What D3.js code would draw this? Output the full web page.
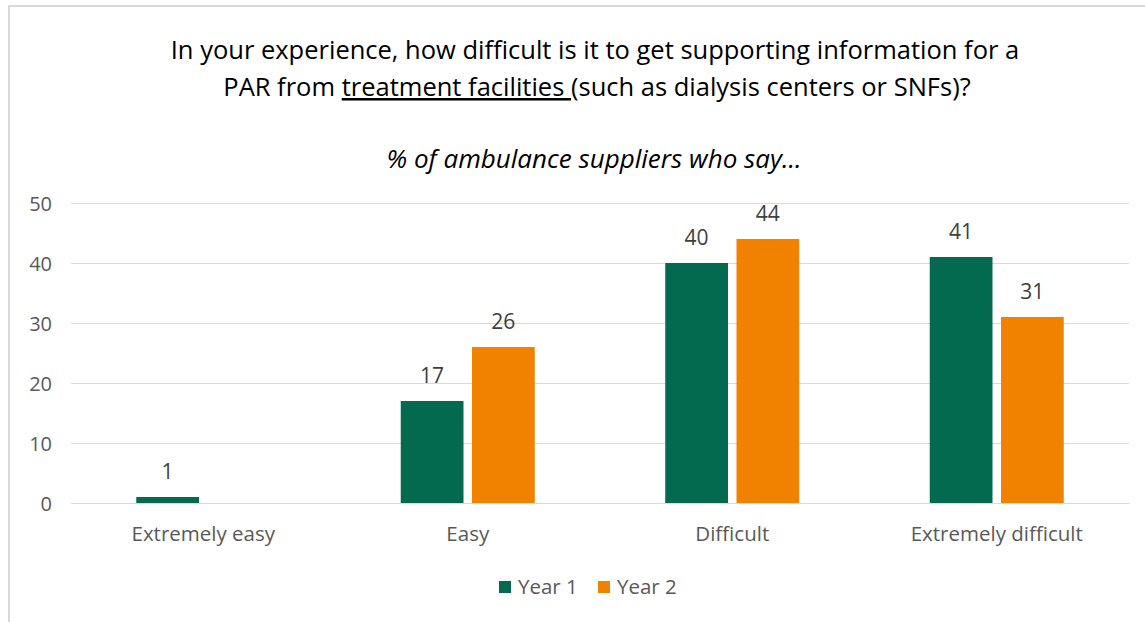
<!DOCTYPE html>
<html><head><meta charset="utf-8">
<script src="https://cdn.jsdelivr.net/npm/d3@7"></script>
<style>
html,body{margin:0;padding:0;background:#fff;}
svg text{font-family:"Open Sans","Noto Sans",sans-serif;}
</style></head>
<body>
<svg id="chart" width="1145" height="622"></svg>
<script>
const categories = ["Extremely easy","Easy","Difficult","Extremely difficult"];
const seriesNames = ["Year 1","Year 2"];
const year1 = [1,17,40,41];
const year2 = [null,26,44,31];
const yTicks = [0,10,20,30,40,50];
const colors = ["#036A4F","#F08200"];

const svg = d3.select("#chart");
svg.append("rect").attr("x",0).attr("y",0).attr("width",1145).attr("height",622).attr("fill","#fff");
// frame
svg.append("line").attr("x1",9).attr("x2",9).attr("y1",5).attr("y2",622).attr("stroke","#d9d9d9").attr("stroke-width",2);
svg.append("line").attr("x1",8).attr("x2",1145).attr("y1",6).attr("y2",6).attr("stroke","#d9d9d9").attr("stroke-width",2);

const margin = {left:71, right:1129, top:203, bottom:503};
const x0 = d3.scaleBand().domain(categories).range([margin.left, margin.right]).paddingInner(0).paddingOuter(0);
const x1 = d3.scaleBand().domain(seriesNames).range([0,134]).paddingInner(16/134);
const y = d3.scaleLinear().domain([0,50]).range([margin.bottom, margin.top]);

// gridlines
const yAxis = d3.axisLeft(y).tickValues(yTicks).tickSize(-(margin.right-margin.left)).tickPadding(19);
const gy = svg.append("g").attr("transform",`translate(${margin.left},0)`).call(yAxis);
gy.select(".domain").remove();
gy.selectAll(".tick line").attr("stroke","#d9d9d9").attr("stroke-width",1);
gy.selectAll(".tick text").attr("fill","#595959").style("font-size","20px").attr("dy","0.35em");

const data = categories.map((c,i)=>({cat:c, vals:[{s:"Year 1",v:year1[i]},{s:"Year 2",v:year2[i]}]}));
const groups = svg.append("g").selectAll("g").data(data).join("g")
  .attr("transform",d=>`translate(${x0(d.cat)+x0.bandwidth()/2-67},0)`);
groups.selectAll("rect").data(d=>d.vals.filter(v=>v.v!=null)).join("rect")
  .attr("x",d=>x1(d.s)).attr("width",x1.bandwidth())
  .attr("y",d=>y(d.v)).attr("height",d=>y(0)-y(d.v))
  .attr("fill",(d)=>colors[seriesNames.indexOf(d.s)]);
groups.selectAll("text").data(d=>d.vals.filter(v=>v.v!=null)).join("text")
  .attr("x",d=>x1(d.s)+x1.bandwidth()/2).attr("y",d=>y(d.v)-18)
  .attr("text-anchor","middle").attr("fill","#404040").style("font-size","21px")
  .text(d=>d.v);

// x axis labels
const xAxis = d3.axisBottom(x0).tickSize(0).tickPadding(23);
const gx = svg.append("g").attr("transform",`translate(0,${margin.bottom})`).call(xAxis);
gx.select(".domain").attr("stroke","#d9d9d9");
gx.selectAll(".tick text").attr("fill","#595959").style("font-size","20.5px");

// title
const title = svg.append("text").attr("text-anchor","middle").attr("fill","#000").style("font-size","25.5px");
title.append("tspan").attr("x",595).attr("y",59).text("In your experience, how difficult is it to get supporting information for a");
const l2 = title.append("tspan").attr("x",597).attr("y",96);
l2.append("tspan").text("PAR from ");
l2.append("tspan").style("text-decoration","underline").style("white-space","pre").text("treatment facilities ");
l2.append("tspan").text("(such as dialysis centers or SNFs)?");
svg.append("text").attr("x",594).attr("y",168).attr("text-anchor","middle").attr("fill","#000")
  .style("font-size","26px").style("font-style","italic").text("% of ambulance suppliers who say...");

// legend
const legend = svg.append("g").attr("transform","translate(499,581)");
const li = legend.selectAll("g").data(seriesNames).join("g").attr("transform",(d,i)=>`translate(${i*99},0)`);
li.append("rect").attr("width",12).attr("height",12).attr("fill",(d,i)=>colors[i]);
li.append("text").attr("x",19).attr("y",6).attr("dy","0.35em").attr("fill","#595959").style("font-size","20.5px").text(d=>d);
</script>
</body></html>
